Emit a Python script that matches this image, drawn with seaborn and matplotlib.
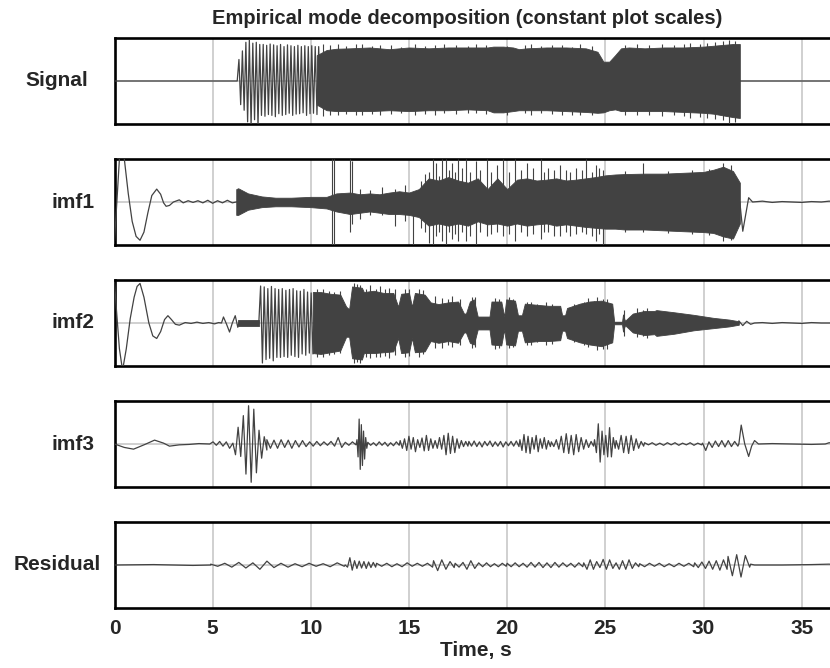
import numpy as np
import seaborn as sns
import matplotlib.pyplot as plt

sns.set_theme(style='white')
plt.rcParams['font.family'] = ['Liberation Sans', 'DejaVu Sans']
plt.rcParams['font.weight'] = 'bold'

LINE = '#424242'
T_END = 36.85

# ---- Signal ----
sig_flat_a = ([0.0, 6.25], [0.0, 0.0])
sig_burst = ([6.25, 10.4], [0, 0.5, -0.55, 0.7, -0.68, 0.9, -0.95, 0.95, -1.05, 0.88, -0.9, 0.9, -1.05,
                            0.85, -0.8, 0.85, -0.82, 0.83, -0.78, 0.86, -0.8, 0.84, -0.83, 0.82, -0.76,
                            0.85, -0.8, 0.8, -0.78, 0.84, -0.75, 0.82, -0.8, 0.8, -0.77, 0.83, -0.76,
                            0.8, -0.74, 0.82, -0.8, 0.8, -0.76, 0.82, -0.75, 0.8, -0.78, 0.8])
sig_flat_b = ([10.45, 31.85, T_END], [0.0, 0.0, 0.0])
sig_env_t = [10.3, 10.8, 11.3, 12, 13, 14, 15, 16, 17, 18, 19, 19.3, 19.8, 20.3, 20.6, 21, 22, 23, 24,
             24.6, 24.9, 25.2, 25.5, 25.8, 26.2, 27, 28, 29, 30, 30.5, 31, 31.5, 31.85]
sig_env_hi = [0.6, 0.72, 0.75, 0.76, 0.78, 0.74, 0.78, 0.76, 0.78, 0.78, 0.78, 0.8, 0.8, 0.78, 0.74, 0.76,
              0.78, 0.78, 0.76, 0.68, 0.45, 0.45, 0.6, 0.76, 0.78, 0.76, 0.78, 0.78, 0.8, 0.82, 0.84, 0.86, 0.86]
sig_env_lo = [-0.55, -0.68, -0.7, -0.7, -0.7, -0.68, -0.7, -0.68, -0.68, -0.66, -0.68, -0.73, -0.73,
              -0.7, -0.68, -0.68, -0.68, -0.7, -0.72, -0.74, -0.73, -0.68, -0.66, -0.7, -0.7, -0.7,
              -0.7, -0.72, -0.74, -0.76, -0.8, -0.84, -0.86]
sig_spike_t = [10.6, 11.0, 11.4, 11.8, 12.3, 12.6, 13.1, 13.5, 14.1, 14.6, 15.3, 15.8, 16.3, 16.8,
               17.4, 18.0, 18.4, 18.9, 20.0, 20.9, 21.2, 21.7, 22.3, 22.8, 23.3, 23.7, 24.3, 26.0,
               26.6, 27.2, 27.9, 28.5, 29.0, 29.3, 29.8, 30.2, 30.6, 31.0, 31.3, 31.6]
sig_spike_hi = [0.86, 0.84, 0.85, 0.82, 0.86, 0.86, 0.82, 0.84, 0.84, 0.8, 0.85, 0.82, 0.84, 0.86,
                0.84, 0.82, 0.85, 0.84, 0.82, 0.84, 0.87, 0.82, 0.84, 0.83, 0.8, 0.85, 0.82, 0.84,
                0.86, 0.84, 0.86, 0.84, 0.86, 0.88, 0.87, 0.88, 0.9, 0.92, 0.95, 0.92]
sig_spike_lo = [-0.82, -0.8, -0.8, -0.76, -0.78, -0.8, -0.76, -0.78, -0.76, -0.74, -0.8, -0.76, -0.78,
                -0.75, -0.76, -0.74, -0.74, -0.76, -0.78, -0.74, -0.78, -0.74, -0.76, -0.78, -0.8,
                -0.8, -0.8, -0.78, -0.8, -0.78, -0.82, -0.8, -0.82, -0.85, -0.84, -0.86, -0.88,
                -0.9, -1.0, -0.95]

# ---- imf1 ----
imf1_head = ([0.0, 0.12, 0.25, 0.38, 0.5, 0.7, 0.9, 1.1, 1.3, 1.5, 1.7, 1.9, 2.15, 2.35, 2.5, 2.63,
              2.8, 3.0, 3.3, 3.5, 3.75, 4.0, 4.25, 4.5, 4.75, 5.0, 5.25, 5.5, 5.75, 6.0, 6.2],
             [-0.9, 0.0, 1.0, 1.3, 1.0, 0.2, -0.45, -0.8, -0.89, -0.7, -0.25, 0.15, 0.3, 0.18, -0.02,
              -0.1, -0.08, 0.0, 0.05, -0.02, 0.03, -0.01, 0.03, -0.02, 0.04, -0.03, 0.03, -0.02,
              0.04, -0.02, 0.0])
imf1_mid = ([6.2, 31.85], [0.0, 0.0])
imf1_tail = ([31.85, 32.0, 32.3, 32.5, 33.0, 33.5, 34.0, 34.5, 35.0, 35.5, 36.0, 36.4, T_END],
             [0.0, -0.68, 0.1, 0.0, 0.02, -0.01, 0.01, 0.0, -0.01, 0.01, 0.0, 0.02, 0.0])
imf1_env_t = [6.2, 6.3, 6.8, 7.5, 8.2, 9.0, 10.0, 10.8, 11.3, 12.0, 12.5, 13.0, 13.5, 14.0, 14.5, 15.0,
              15.5, 16.0, 16.5, 17.0, 17.5, 18.0, 18.5, 19.0, 19.5, 20.0, 20.5, 21.0, 21.5, 22.0, 22.5,
              23.0, 23.5, 24.0, 24.5, 25.0, 25.5, 26.0, 27.0, 28.0, 29.0, 30.0, 30.5, 31.0, 31.5, 31.85]
imf1_env_hi = [0.3, 0.32, 0.2, 0.13, 0.1, 0.1, 0.12, 0.12, 0.2, 0.22, 0.18, 0.2, 0.18, 0.22, 0.25, 0.22,
               0.3, 0.55, 0.5, 0.58, 0.5, 0.45, 0.55, 0.3, 0.55, 0.3, 0.52, 0.55, 0.5, 0.52, 0.55,
               0.5, 0.52, 0.55, 0.58, 0.62, 0.64, 0.65, 0.66, 0.66, 0.68, 0.7, 0.75, 0.82, 0.72, 0.45]
imf1_env_lo = [-0.3, -0.3, -0.18, -0.12, -0.1, -0.1, -0.12, -0.15, -0.22, -0.28, -0.25, -0.22, -0.25,
               -0.28, -0.28, -0.3, -0.35, -0.55, -0.5, -0.55, -0.5, -0.55, -0.45, -0.52, -0.5, -0.55,
               -0.5, -0.55, -0.52, -0.5, -0.55, -0.52, -0.55, -0.58, -0.6, -0.62, -0.62, -0.64, -0.64,
               -0.66, -0.68, -0.7, -0.72, -0.8, -0.85, -0.5]
imf1_spike_t = [11.1, 11.18, 12.0, 12.1, 12.5, 13.0, 13.6, 14.3, 14.8, 15.2, 15.6, 15.8, 16.0, 16.2,
                16.4, 16.55, 16.7, 16.9, 17.05, 17.2, 17.35, 17.5, 17.7, 17.9, 18.1, 18.4, 18.6,
                18.96, 19.2, 19.5, 19.8, 20.1, 20.4, 20.7, 21.0, 21.3, 21.7, 21.9, 22.1, 22.4, 22.7,
                23.0, 23.2, 23.5, 23.8, 24.0, 24.3, 24.5, 24.7, 24.9, 26.0, 26.9, 28.2, 29.4, 30.3,
                31.0, 31.4]
imf1_spike_hi = [1.0, 1.0, 1.0, 0.95, 0.3, 0.28, 0.35, 0.3, 0.4, 0.2, 0.5, 0.65, 0.7, 1.0, 0.9, 0.6,
                 1.0, 1.0, 0.75, 0.9, 0.7, 1.0, 0.8, 1.0, 0.7, 0.95, 0.75, 1.0, 0.7, 0.85, 1.0, 0.7,
                 1.0, 0.75, 0.9, 0.8, 1.0, 0.7, 0.8, 0.75, 0.85, 0.75, 0.7, 0.8, 0.75, 1.0, 0.7,
                 0.85, 0.8, 0.75, 0.72, 0.9, 0.72, 0.74, 0.76, 0.9, 0.85]
imf1_spike_lo = [-1.0, -1.0, -0.7, -0.5, -0.4, -0.3, -0.3, -0.55, -0.45, -1.0, -0.6, -0.7, -0.95,
                 -1.0, -0.8, -0.7, -0.9, -1.0, -0.7, -0.85, -0.75, -0.9, -0.7, -0.9, -0.8, -1.0,
                 -0.7, -0.8, -0.75, -0.7, -0.8, -0.75, -0.9, -0.7, -0.8, -0.75, -0.85, -0.7, -0.7,
                 -0.8, -0.8, -0.7, -0.8, -0.75, -0.7, -0.75, -0.8, -0.9, -0.75, -1.0, -0.7, -0.7,
                 -0.72, -0.74, -0.76, -0.9, -0.88]

# ---- imf2 ----
imf2_head = ([0.0, 0.1, 0.25, 0.41, 0.6, 0.8, 1.0, 1.15, 1.3, 1.5, 1.75, 1.95, 2.15, 2.35, 2.55, 2.72,
              2.9, 3.1, 3.3, 3.6, 3.9, 4.2, 4.5, 4.8, 5.1, 5.3, 5.45, 5.55, 5.7, 5.86, 6.0, 6.15, 6.28, 6.33],
             [0.95, 0.3, -0.6, -1.1, -0.6, 0.1, 0.6, 0.85, 0.92, 0.6, 0.0, -0.3, -0.36, -0.2, 0.08, 0.17,
              0.08, -0.03, -0.05, 0.01, -0.01, 0.02, -0.01, 0.01, -0.02, 0.01, 0.0, 0.14, -0.02, -0.21,
              0.0, 0.17, -0.1, 0.0])
imf2_burst = ([7.35, 10.2], [0.0, 0.86, -0.93, 0.84, -0.85, 0.8, -0.82, 0.85, -0.88, 0.8, -0.8, 0.78,
                             -0.8, 0.8, -0.78, 0.76, -0.8, 0.78, -0.75, 0.8, -0.78, 0.75, -0.8, 0.74,
                             -0.72, 0.78, -0.75, 0.72, -0.7, 0.7, -0.72, 0.7])
imf2_gap_a = ([6.33, 7.35], [0.0, 0.0])
imf2_gap_b = ([10.25, 31.8], [0.0, 0.0])
imf2_tail = ([31.8, 32.0, 32.2, 32.4, 32.6, 33.0, 33.5, 34.0, 34.5, 35.0, 35.5, 36.0, T_END],
             [0.05, -0.06, 0.04, -0.03, 0.0, 0.01, -0.01, 0.01, 0.0, -0.01, 0.01, 0.0, 0.0])
imf2_small_t = [6.3, 7.35]
imf2_small_hi = [0.06, 0.06]
imf2_small_lo = [-0.06, -0.06]
imf2_env_t = [10.1, 10.5, 11.0, 11.5, 11.8, 11.95, 12.1, 12.6, 12.7, 13.2, 13.7, 14.2,
              14.45, 14.6, 15.0, 15.15, 15.3, 15.8, 16.1, 16.5, 17.0, 17.5, 17.8, 17.9, 18.1, 18.3,
              18.5, 19.1, 19.2, 19.7, 19.85, 19.95, 20.4, 20.55, 20.75, 20.9, 21.6, 22.1, 22.7, 22.8,
              22.95, 23.05, 23.7, 24.2, 24.8, 25.35, 25.45, 25.85, 25.9, 26.0, 26.4, 27.0, 27.5,
              27.6, 28.5, 29.5, 30.5, 31.3, 31.8]
imf2_env_hi = [0.72, 0.72, 0.68, 0.66, 0.38, 0.32, 0.85, 0.82, 0.72, 0.75, 0.7, 0.7,
               0.38, 0.68, 0.7, 0.38, 0.7, 0.66, 0.48, 0.44, 0.48, 0.5, 0.22, 0.22, 0.5, 0.55, 0.15,
               0.15, 0.5, 0.5, 0.15, 0.55, 0.52, 0.18, 0.18, 0.45, 0.42, 0.4, 0.4, 0.18, 0.18, 0.35,
               0.45, 0.5, 0.52, 0.45, 0.03, 0.03, 0.2, 0.05, 0.22, 0.28, 0.28, 0.3, 0.25, 0.19,
               0.12, 0.08, 0.04]
imf2_env_lo = [-0.7, -0.72, -0.68, -0.64, -0.32, -0.32, -0.82, -0.85, -0.7, -0.7, -0.68, -0.66,
               -0.35, -0.7, -0.68, -0.35, -0.68, -0.66, -0.42, -0.46, -0.42, -0.46, -0.22, -0.22,
               -0.46, -0.5, -0.15, -0.15, -0.5, -0.52, -0.15, -0.5, -0.52, -0.18, -0.18, -0.45,
               -0.42, -0.42, -0.4, -0.18, -0.18, -0.35, -0.45, -0.5, -0.54, -0.45, -0.03, -0.03,
               -0.2, -0.05, -0.22, -0.28, -0.26, -0.3, -0.25, -0.17, -0.12, -0.08, -0.04]
imf2_spike_t = [10.3, 10.6, 10.9, 11.2, 11.5, 12.2, 12.35, 12.5, 12.8, 13.0, 13.3, 13.5, 13.8, 14.0,
                14.3, 14.8, 15.0, 15.5, 15.7, 16.3, 16.7, 17.0, 17.2, 17.6, 18.2, 18.35, 19.4, 19.6,
                20.1, 20.3, 21.0, 21.2, 21.5, 22.0, 22.3, 23.4, 23.9, 24.1, 24.4, 24.6, 24.9, 25.1,
                25.95, 26.6, 26.9, 27.1]
imf2_spike_hi = [0.8, 0.78, 0.75, 0.72, 0.75, 0.92, 0.9, 0.88, 0.8, 0.88, 0.8, 0.85, 0.78, 0.82, 0.78,
                 0.8, 0.78, 0.8, 0.76, 0.62, 0.58, 0.55, 0.62, 0.55, 0.6, 0.6, 0.58, 0.55, 0.6, 0.55,
                 0.5, 0.5, 0.45, 0.48, 0.45, 0.45, 0.5, 0.58, 0.52, 0.6, 0.55, 0.55, 0.3, 0.35, 0.3,
                 0.35]
imf2_spike_lo = [-0.78, -0.8, -0.75, -0.72, -0.7, -0.93, -0.9, -0.92, -0.78, -0.82, -0.78, -0.78,
                 -0.76, -0.82, -0.75, -0.8, -0.76, -0.78, -0.72, -0.58, -0.58, -0.52, -0.55, -0.52,
                 -0.58, -0.55, -0.6, -0.58, -0.58, -0.55, -0.5, -0.52, -0.45, -0.5, -0.48, -0.45,
                 -0.5, -0.55, -0.5, -0.62, -0.6, -0.6, -0.3, -0.32, -0.3, -0.35]

# ---- imf3 ----
imf3_head = ([0.0, 0.5, 0.97, 1.5, 2.04, 2.5, 2.8, 3.3, 3.8, 4.3, 4.85],
             [0.0, -0.08, -0.12, -0.02, 0.09, 0.02, -0.05, -0.02, -0.01, 0.01, 0.0])
imf3_lead = ([4.85, 6.03], [0.0, 0.05, -0.03, 0.06, -0.05, 0.05, -0.1, 0.02])
imf3_packet = ([6.03, 7.76], [0.02, -0.25, 0.39, -0.29, 0.66, -0.7, 0.89, -0.89, 0.81, -0.67,
                              0.32, -0.33, 0.17, -0.14])
imf3_b = ([7.76, 12.3], [0.1, -0.1, 0.09, -0.1, 0.1, -0.08, 0.09, -0.1, 0.08, -0.07, 0.08, -0.06, 0.05,
                         -0.05, 0.06, -0.04, 0.05, -0.03, 0.06, -0.05, 0.15, -0.08, 0.04, -0.03, 0.05, -0.02])
imf3_spike = ([12.35, 12.85], [0.1, -0.3, 0.58, -0.59, 0.45, -0.5, 0.3, -0.35, 0.15, -0.1])
imf3_c = ([12.9, 14.5], [0.04, -0.03, 0.03, -0.04, 0.05, -0.03, 0.04, -0.05, 0.03, -0.04, 0.05, -0.03])
imf3_d = ([14.55, 18.0], [0.08, -0.1, 0.12, -0.15, 0.18, -0.12, 0.15, -0.18, 0.1, -0.08, 0.14, -0.16,
                          0.2, -0.15, 0.12, -0.1, 0.08, -0.1, 0.15, -0.12, 0.2, -0.25, 0.25, -0.22,
                          0.18, -0.2, 0.12, -0.1, 0.08, -0.06, 0.06, -0.05])
imf3_e = ([18.05, 20.6], [0.06, -0.05, 0.07, -0.06, 0.05, -0.07, 0.06, -0.04, 0.07, -0.06, 0.05, -0.05,
                          0.06, -0.07, 0.05, -0.04, 0.06, -0.05, 0.07, -0.06])
imf3_f = ([20.65, 22.2], [0.1, -0.15, 0.22, -0.2, 0.18, -0.22, 0.15, -0.12, 0.2, -0.18, 0.12, -0.1,
                          0.15, -0.12, 0.08, -0.06])
imf3_g = ([22.25, 24.4], [0.05, -0.06, 0.1, -0.12, 0.18, -0.2, 0.24, -0.22, 0.2, -0.25, 0.22, -0.18,
                          0.15, -0.12, 0.1, -0.08, 0.06, -0.05])
imf3_h = ([24.45, 25.5], [0.1, -0.2, 0.47, -0.42, 0.3, -0.25, 0.2, -0.3, 0.38, -0.3, 0.15, -0.1])
imf3_i = ([25.55, 26.95], [0.08, -0.12, 0.2, -0.2, 0.18, -0.22, 0.2, -0.15, 0.12, -0.1, 0.06, -0.05])
imf3_j = ([27.0, 29.9], [0.03, -0.02, 0.03, -0.03, 0.02, -0.03, 0.03, -0.02, 0.03, -0.03, 0.02, -0.02,
                         0.03, -0.03, 0.02, -0.02])
imf3_k = ([29.95, 31.75], [0.02, -0.15, 0.05, -0.08, 0.07, -0.06, 0.08, -0.07, 0.08, -0.06, 0.06, -0.05])
imf3_tail = ([31.8, 31.92, 32.1, 32.3, 32.45, 32.6, 32.8, 33.5, 34.5, 35.5, 36.2, 36.4, T_END],
             [0.0, 0.44, 0.0, -0.29, -0.05, 0.08, 0.0, 0.01, 0.0, -0.01, 0.0, 0.03, 0.0])

# ---- Residual ----
res_head = ([0.0, 2.0, 4.0, 4.9], [0.0, 0.01, -0.01, 0.0])
res_a = ([4.9, 11.7], [0.02, -0.03, 0.04, -0.05, 0.06, -0.07, 0.05, -0.1, 0.09, -0.06, 0.04, -0.05,
                       0.03, -0.04, 0.04, -0.03, 0.03, -0.04, 0.05, -0.03])
res_b = ([11.75, 13.3], [0.0, -0.05, 0.17, -0.12, 0.1, -0.08, 0.09, -0.07, 0.08, -0.08, 0.07, -0.06,
                         0.06, -0.05])
res_c = ([13.35, 16.2], [0.04, -0.03, 0.04, -0.04, 0.03, -0.04, 0.05, -0.03, 0.04, -0.03, 0.04, -0.05])
res_d = ([16.25, 17.3], [0.1, -0.13, 0.12, -0.1, 0.08, -0.06])
res_e = ([17.35, 19.95], [0.04, -0.05, 0.06, -0.1, 0.1, -0.08, 0.05, -0.04, 0.05, -0.04, 0.03, -0.04,
                          0.04, -0.03])
res_f = ([20.0, 23.85], [0.04, -0.04, 0.05, -0.04, 0.04, -0.05, 0.06, -0.05, 0.06, -0.06, 0.05, -0.06,
                         0.06, -0.05, 0.05, -0.04, 0.04, -0.05, 0.05, -0.04])
res_g = ([23.9, 26.7], [0.05, -0.1, 0.12, -0.1, 0.08, -0.06, 0.13, -0.1, 0.12, -0.08, 0.05, -0.1,
                        0.1, -0.1, 0.12, -0.08, 0.05, -0.04])
res_h = ([26.75, 29.5], [0.03, -0.04, 0.04, -0.03, 0.04, -0.04, 0.03, -0.04, 0.04, -0.03, 0.04, -0.04])
res_i = ([29.55, 31.2], [0.05, -0.06, 0.07, -0.08, 0.09, -0.1, 0.1, -0.12, 0.12, -0.1])
res_j = ([31.25, 32.35], [0.2, -0.25, 0.24, -0.28, 0.22, -0.05])
res_tail = ([32.4, 32.6, 34.0, 35.5, 36.4, T_END], [0.02, 0.0, 0.0, 0.01, 0.02, 0.0])

panels = [
    ('Signal', [sig_flat_a, sig_burst, sig_flat_b],
     [(sig_env_t, sig_env_hi, sig_env_lo)], (sig_spike_t, sig_spike_hi, sig_spike_lo), 57),
    ('imf1', [imf1_head, imf1_mid, imf1_tail],
     [(imf1_env_t, imf1_env_hi, imf1_env_lo)], (imf1_spike_t, imf1_spike_hi, imf1_spike_lo), 73),
    ('imf2', [imf2_head, imf2_gap_a, imf2_burst, imf2_gap_b, imf2_tail],
     [(imf2_small_t, imf2_small_hi, imf2_small_lo), (imf2_env_t, imf2_env_hi, imf2_env_lo)],
     (imf2_spike_t, imf2_spike_hi, imf2_spike_lo), 73),
    ('imf3', [imf3_head, imf3_lead, imf3_packet, imf3_b, imf3_spike, imf3_c, imf3_d, imf3_e, imf3_f,
              imf3_g, imf3_h, imf3_i, imf3_j, imf3_k, imf3_tail], [], None, 73),
    ('Residual', [res_head, res_a, res_b, res_c, res_d, res_e, res_f, res_g, res_h, res_i, res_j,
                  res_tail], [], None, 57),
]


def build(parts):
    xs, ys = [], []
    for times, vals in parts:
        if len(times) == len(vals):
            xs.extend(times)
        else:
            xs.extend(np.linspace(times[0], times[-1], len(vals)))
        ys.extend(vals)
    return np.array(xs, dtype=float), np.array(ys, dtype=float)


W, H = 830, 668
fig = plt.figure(figsize=(W / 100, H / 100), dpi=100)
tops = [38, 159, 280, 401, 522]
ph = 86
left_px = 114.5
right_px = 838

for i, (name, parts, envs, spikes, lab_x) in enumerate(panels):
    ax = fig.add_axes([left_px / W, 1 - (tops[i] + ph) / H, (right_px - left_px) / W, ph / H])
    x, y = build(parts)
    sns.lineplot(x=x, y=y, ax=ax, color=LINE, lw=0.9, estimator=None, sort=False, zorder=3)
    for et, eh, el in envs:
        ax.fill_between(et, el, eh, color=LINE, lw=0.6, zorder=3)
    if spikes is not None:
        ax.vlines(spikes[0], spikes[2], spikes[1], color=LINE, lw=0.8, zorder=3)
    ax.set_xlim(0, T_END)
    ax.set_ylim(-1.0, 1.0)
    ax.set_xticks(np.arange(0, 36, 5))
    ax.set_yticks([0])
    ax.grid(True, color='#c4c4c4', lw=1.1, zorder=0)
    ax.set_axisbelow(True)
    ax.tick_params(length=0, labelleft=False)
    for s in ax.spines.values():
        s.set_visible(True)
        s.set_color('black')
        s.set_linewidth(1.9)
    ax.set_xlabel('')
    ax.set_ylabel('')
    if i < 4:
        ax.tick_params(labelbottom=False)
    else:
        ax.tick_params(labelbottom=True, pad=8, labelsize=15)
        for lab in ax.get_xticklabels():
            lab.set_fontweight('bold')
        ax.set_xlabel('Time, s', fontsize=15, fontweight='bold', labelpad=2)
    fig.text(lab_x / W, 1 - (tops[i] + ph / 2) / H, name, ha='center', va='center',
             fontsize=15, fontweight='bold')

fig.text(467 / W, 1 - 18 / H, 'Empirical mode decomposition (constant plot scales)',
         ha='center', va='center', fontsize=14.5, fontweight='bold')

fig.savefig('out.png', dpi=100)
